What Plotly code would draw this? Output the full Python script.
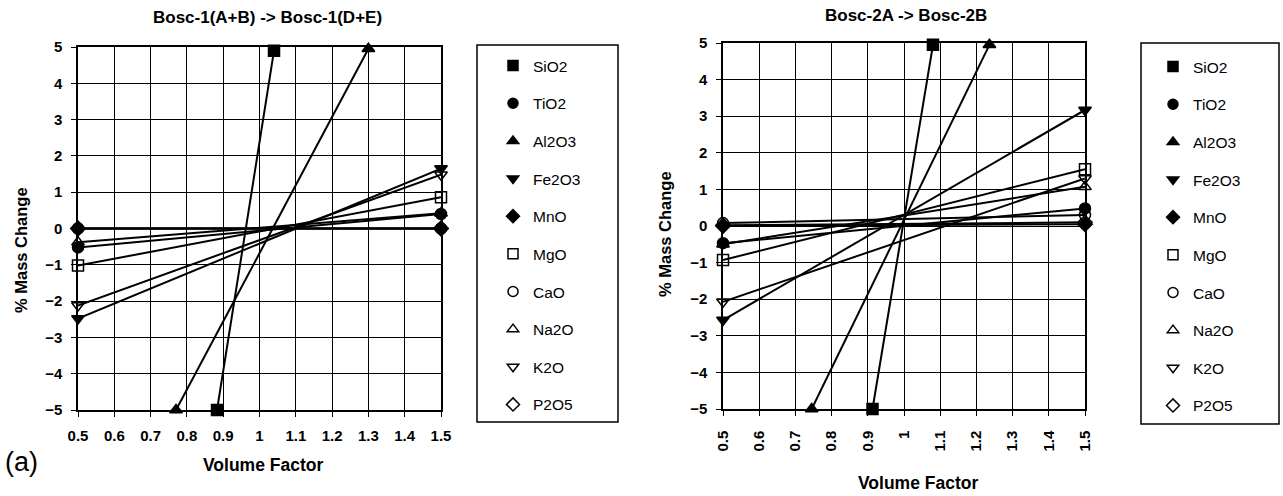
import plotly.graph_objects as go

W, H = 1283, 496

oxides = ["SiO2", "TiO2", "Al2O3", "Fe2O3", "MnO", "MgO", "CaO", "Na2O", "K2O", "P2O5"]
symbols = ["square", "circle", "triangle-up", "triangle-down", "diamond",
           "square-open", "circle-open", "triangle-up-open", "triangle-down-open", "diamond-open"]

# Bosc-1(A+B) -> Bosc-1(D+E): volume factor and % mass change at the two ends of each line
bosc1_vf = [[0.883, 1.04], [0.5, 1.5], [0.77, 1.30], [0.5, 1.5], [0.5, 1.5],
            [0.5, 1.5], [0.5, 1.5], [0.5, 1.5], [0.5, 1.5], [0.5, 1.5]]
bosc1_mc = [[-5, 4.9], [-0.52, 0.40], [-5, 4.95], [-2.48, 1.65], [0, 0],
            [-1.02, 0.86], [0, 0], [-0.38, 0.42], [-2.12, 1.48], [0, 0]]

# Bosc-2A -> Bosc-2B
bosc2_vf = [[0.913, 1.08], [0.5, 1.5], [0.745, 1.236], [0.5, 1.5], [0.5, 1.5],
            [0.5, 1.5], [0.5, 1.5], [0.5, 1.5], [0.5, 1.5], [0.5, 1.5]]
bosc2_mc = [[-5, 4.95], [-0.47, 0.48], [-5, 4.95], [-2.57, 3.17], [0.0, 0.05],
            [-0.93, 1.55], [0.08, 0.30], [-0.5, 1.07], [-2.07, 1.30], [0.02, 0.10]]

x_ticks = [0.5, 0.6, 0.7, 0.8, 0.9, 1.0, 1.1, 1.2, 1.3, 1.4, 1.5]
x_tick_text = ["0.5", "0.6", "0.7", "0.8", "0.9", "1", "1.1", "1.2", "1.3", "1.4", "1.5"]
y_ticks = [-5, -4, -3, -2, -1, 0, 1, 2, 3, 4, 5]

FONT = "Liberation Sans, Arial, sans-serif"


def px(x):
    return x / W


def py(y):
    return 1 - y / H


fig = go.Figure()

# open markers first so the filled ones sit on top
draw_order = [6, 9, 7, 8, 5, 0, 2, 3, 4, 1]

for xa, ya, vfs, mcs in [("x", "y", bosc1_vf, bosc1_mc), ("x2", "y2", bosc2_vf, bosc2_mc)]:
    for i in draw_order:
        fig.add_trace(go.Scatter(
            x=vfs[i], y=mcs[i], xaxis=xa, yaxis=ya,
            mode="lines+markers", showlegend=False, cliponaxis=False,
            line=dict(color="black", width=2),
            marker=dict(symbol=symbols[i], size=11, color="black",
                        line=dict(color="black", width=1.5)),
            name=oxides[i],
        ))

# legend entries (markers only)
for leg in ["legend", "legend2"]:
    for i, name in enumerate(oxides):
        fig.add_trace(go.Scatter(
            x=[None], y=[None], mode="markers", name=name,
            legend=leg, legendgroup=leg + name, showlegend=True,
            marker=dict(symbol=symbols[i], size=10, color="black",
                        line=dict(color="black", width=1.5)),
        ))

tickfont = dict(family=FONT, size=15, color="black", weight="bold")

axis_common = dict(
    range=[0.5, 1.5], tickvals=x_ticks, ticktext=x_tick_text,
    showgrid=True, gridcolor="black", gridwidth=1,
    showline=True, linecolor="black", linewidth=1.5, mirror=True,
    ticks="outside", ticklen=5, tickcolor="black", zeroline=False,
    tickfont=tickfont, automargin=False,
)
yaxis_common = dict(
    range=[-5, 5], tickvals=y_ticks,
    showgrid=True, gridcolor="black", gridwidth=1,
    showline=True, linecolor="black", linewidth=1.5, mirror=True,
    ticks="outside", ticklen=5, tickcolor="black", zeroline=False,
    tickfont=tickfont, ticklabelstandoff=6, automargin=False,
)

legend_common = dict(
    yanchor="top", xanchor="left", bgcolor="rgba(0,0,0,0)", borderwidth=0,
    traceorder="grouped", tracegroupgap=14.5,
    font=dict(family=FONT, size=15.5, color="black"),
)


def label(text, x, y, size, angle=0, weight="bold", xanchor="center"):
    return dict(text=text, x=px(x), y=py(y), xref="paper", yref="paper",
                xanchor=xanchor, yanchor="middle", showarrow=False, textangle=angle,
                font=dict(family=FONT, size=size, weight=weight, color="black"))


fig.update_layout(
    width=W, height=H,
    margin=dict(l=0, r=0, t=0, b=0, autoexpand=False),
    paper_bgcolor="white", plot_bgcolor="white",
    font=dict(family=FONT, color="black"),
    xaxis=dict(axis_common, domain=[px(78), px(441)], anchor="y", tickangle=0,
               ticklabelstandoff=6),
    yaxis=dict(yaxis_common, domain=[py(410), py(47)], anchor="x"),
    xaxis2=dict(axis_common, domain=[px(723), px(1085)], anchor="y2", tickangle=-90,
                ticklabelstandoff=9),
    yaxis2=dict(yaxis_common, domain=[py(409), py(43)], anchor="x2"),
    legend=dict(legend_common, x=px(493), y=py(49)),
    legend2=dict(legend_common, x=px(1153), y=py(50)),
    shapes=[
        dict(type="rect", xref="paper", yref="paper", x0=px(477), x1=px(618),
             y0=py(422), y1=py(45), line=dict(color="black", width=1.5)),
        dict(type="rect", xref="paper", yref="paper", x0=px(1141), x1=px(1279),
             y0=py(424), y1=py(43), line=dict(color="black", width=1.5)),
    ],
    annotations=[
        label("Bosc-1(A+B) -> Bosc-1(D+E)", 267, 17, 17),
        label("Bosc-2A -> Bosc-2B", 906, 16, 17),
        label("Volume Factor", 263, 465, 17.5),
        label("Volume Factor", 918, 483, 17.5),
        label("% Mass Change", 21, 250, 16.5, angle=-90),
        label("% Mass Change", 665, 234, 16.5, angle=-90),
        label("(a)", 3, 462, 27, weight="normal", xanchor="left"),
    ],
)

fig.write_html("out.html")
